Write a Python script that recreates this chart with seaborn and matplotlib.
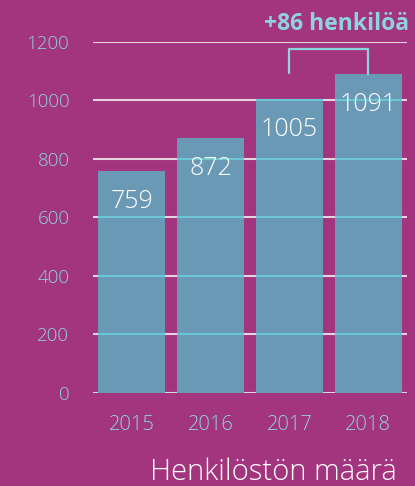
import matplotlib
matplotlib.use("Agg")
import matplotlib.pyplot as plt
import seaborn as sns
import pandas as pd

# data
years = ["2015", "2016", "2017", "2018"]
staff = [759, 872, 1005, 1091]
yticks = [0, 200, 400, 600, 800, 1000, 1200]

bg = "#A3347E"
bar_col = "#6A99B6"
cyan = "#8ED2DD"
grid_light = "#E6D3E0"

sns.set_style("white")
plt.rcParams["font.family"] = ["Open Sans", "DejaVu Sans"]

df = pd.DataFrame({"year": years, "staff": staff})

fig = plt.figure(figsize=(4.15, 4.86), dpi=100, facecolor=bg)
ax = fig.add_axes([0.2241, 0.1914, 0.9807 - 0.2241, 0.9136 - 0.1914])
ax.set_facecolor(bg)

# light gridlines behind the bars
for t in yticks:
    ax.axhline(t, color=grid_light, lw=1.5, zorder=0)

sns.barplot(data=df, x="year", y="staff", color=bar_col, saturation=1,
            width=0.85, linewidth=0, edgecolor="none", ax=ax, zorder=1)

# cyan gridline segments across the bars
for i, v in enumerate(staff):
    for t in yticks[1:]:
        if t < v:
            ax.hlines(t, i - 0.425, i + 0.425, color="#6CC6D1", lw=1.5, zorder=2)

ax.set_xlim(-0.49, 3.49)
ax.set_ylim(0, 1200)
ax.set_yticks(yticks)
ax.set_yticklabels([str(t) for t in yticks])
ax.tick_params(axis="y", length=0, pad=17, labelsize=13.5, labelcolor=cyan)
ax.tick_params(axis="x", length=0, pad=16, labelsize=14.5, labelcolor=cyan)
for lab in ax.get_xticklabels() + ax.get_yticklabels():
    lab.set_fontweight("light")
ax.set_xlabel("")
ax.set_ylabel("")
for s in ax.spines.values():
    s.set_visible(False)

# values inside bars
for i, v in enumerate(staff):
    ax.text(i, v - 105, str(v), ha="center", va="center", color="white",
            fontsize=18, fontweight="light", zorder=3)

# bracket showing the change
ax.plot([2, 2, 3, 3], [1094, 1176, 1176, staff[3]], color=cyan, lw=1.6,
        clip_on=False, zorder=3)
ax.text(3.52, 1262, "+%d henkilöä" % (staff[3] - staff[2]), ha="right",
        va="center", color=cyan, fontsize=16.5, fontweight="bold", clip_on=False)

fig.text(0.957, 0.028, "Henkilöstön määrä", ha="right", va="center",
         color="white", fontsize=21, fontweight="light")

fig.savefig("out.png", dpi=100, facecolor=bg)
